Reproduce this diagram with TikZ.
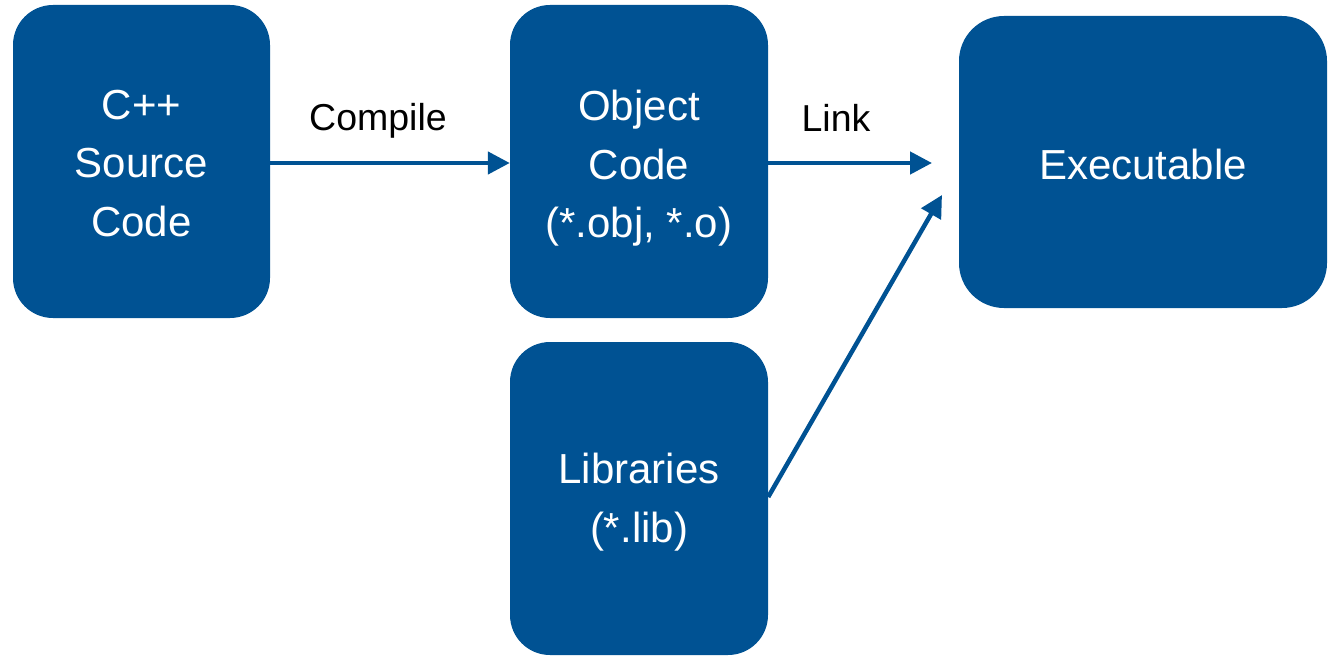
\documentclass[tikz,border=0pt]{standalone}
\usepackage{fontspec}
\setmainfont{Liberation Sans}
\usetikzlibrary{arrows.meta}
\definecolor{boxblue}{RGB}{0,82,147}
\begin{document}
\begin{tikzpicture}[x=1pt,y=-1pt,
  blk/.style={draw=none,fill=boxblue,rounded corners=40pt,inner sep=0pt},
  boxtxt/.style={text=white,align=center,inner sep=0pt,font=\fontsize{42}{58.5}\selectfont},
  lbl/.style={inner sep=0pt,anchor=base,font=\fontsize{37.5}{44}\selectfont,text=black},
  conn/.style={draw=boxblue,line width=4.5pt,-{Triangle[length=22pt,width=22pt]}}]
\useasboundingbox (0,0) rectangle (1333,661);
\node[blk,minimum width=257pt,minimum height=313pt,
  label={[boxtxt,yshift=-2pt]center:{C++\\Source\\Code}}] (src) at (141.5,161.5) {};
\node[blk,minimum width=258pt,minimum height=313pt,
  label={[boxtxt,yshift=-7pt]center:{Object\\Code\\(*.obj, *.o)}}] (obj) at (639,161.5) {};
\node[blk,minimum width=258pt,minimum height=313pt,
  label={[boxtxt,yshift=-3.5pt]center:{Libraries\\(*.lib)}}] (lib) at (639,498.5) {};
\node[blk,minimum width=368pt,minimum height=292pt,rounded corners=45pt,
  label={[boxtxt,yshift=-2pt]center:{Executable}}] (exe) at (1143,162) {};
\coordinate (linkend) at (932,163);
\coordinate (libend) at (942,195);
\draw[conn] (src.east |- 0,163) -- (obj.west |- 0,163);
\draw[conn] (obj.east |- 0,163) -- (linkend);
\draw[conn] (lib.east |- 0,497) -- (libend);
\node[lbl] (cl) at (378,130) {Compile};
\node[lbl] (ll) at (836,131) {Link};
\end{tikzpicture}
\end{document}
